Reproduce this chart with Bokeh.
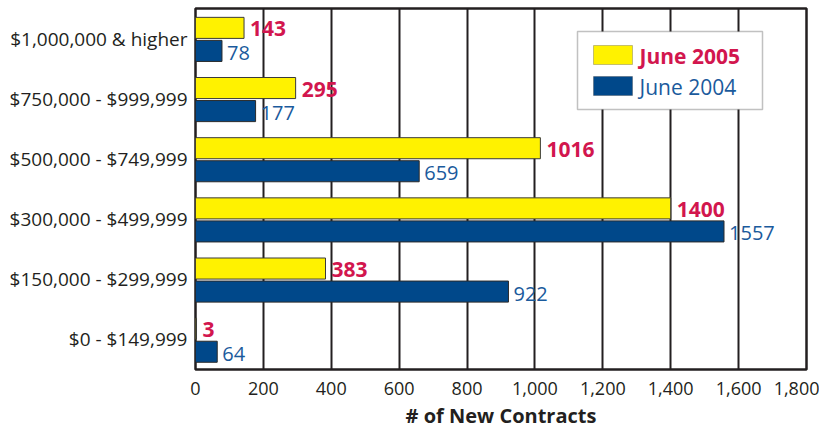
from bokeh.plotting import figure
from bokeh.models import (ColumnDataSource, FactorRange, Range1d, FixedTicker,
                          NumeralTickFormatter, BoxAnnotation, Label, Title)
from bokeh.transform import dodge
from bokeh.core.properties import value
from bokeh.embed import file_html
from bokeh.resources import INLINE

# ---- data ----
categories = ["$0 - $149,999", "$150,000 - $299,999", "$300,000 - $499,999",
              "$500,000 - $749,999", "$750,000 - $999,999", "$1,000,000 & higher"]
june2005 = [3, 383, 1400, 1016, 295, 143]
june2004 = [64, 922, 1557, 659, 177, 78]
x_ticks = [0, 200, 400, 600, 800, 1000, 1200, 1400, 1600, 1800]
series_names = ["June 2005", "June 2004"]
x_title = "# of New Contracts"

FONT = "Open Sans"
DARK = "#231F20"
YELLOW = "#FFF200"
BLUE = "#00488A"
RED = "#D2164E"
BLUE_TXT = "#1A5A9C"

src = ColumnDataSource(dict(
    cat=categories,
    v05=june2005,
    v04=june2004,
    l05=[str(v) for v in june2005],
    l04=[str(v) for v in june2004],
))

p = figure(width=819, height=431, y_range=FactorRange(factors=categories),
           x_range=Range1d(0, 1800), output_backend="svg", toolbar_location=None,
           min_border_left=195, min_border_right=13, min_border_top=8,
           min_border_bottom=60)
p.background_fill_color = "white"
p.border_fill_color = "white"
p.outline_line_color = DARK
p.outline_line_width = 2.5

y05 = dodge("cat", 0.178, range=p.y_range)
y04 = dodge("cat", -0.205, range=p.y_range)

p.hbar(y=y05, left=0, right="v05", height=0.35, source=src,
       fill_color=YELLOW, line_color="#3A3A3A", line_width=1)
p.hbar(y=y04, left=0, right="v04", height=0.35, source=src,
       fill_color=BLUE, line_color="#2A2A2A", line_width=1)

p.text(x="v05", y=y05, text="l05", source=src, x_offset=6, y_offset=1,
       text_baseline="middle", text_align="left",
       text_font=value(FONT), text_font_style="bold", text_font_size="21px",
       text_color=RED)
p.text(x="v04", y=y04, text="l04", source=src, x_offset=5, y_offset=2,
       text_baseline="middle", text_align="left",
       text_font=value(FONT), text_font_size="20px", text_color=BLUE_TXT)

# grid
p.xgrid.grid_line_color = DARK
p.xgrid.grid_line_width = 2
p.ygrid.grid_line_color = None

# axes
xa = p.xaxis[0]
xa.ticker = FixedTicker(ticks=x_ticks)
xa.formatter = NumeralTickFormatter(format="0,0")
xa.major_label_standoff = 12
for ax in (p.xaxis[0], p.yaxis[0]):
    ax.axis_line_color = None
    ax.major_tick_line_color = None
    ax.minor_tick_line_color = None
    ax.major_tick_out = 0
    ax.major_tick_in = 0
    ax.major_label_text_font = FONT
    ax.major_label_text_color = DARK
xa.major_label_text_font_size = "18px"
p.yaxis[0].major_label_text_font_size = "19px"
p.yaxis[0].major_label_standoff = 8

# x-axis title below the tick labels
p.add_layout(Title(text=x_title, align="center", text_font=FONT,
                   text_font_style="bold", text_font_size="20px",
                   text_color=DARK, standoff=5, offset=4), "below")

# legend (drawn manually: two differently styled entries)
p.add_layout(BoxAnnotation(left=382, right=567, top=338, bottom=260,
                           left_units="screen", right_units="screen",
                           top_units="screen", bottom_units="screen",
                           fill_color="white", fill_alpha=1,
                           line_color="#333333", line_width=1.5))
p.add_layout(BoxAnnotation(left=398, right=437, top=324, bottom=305,
                           left_units="screen", right_units="screen",
                           top_units="screen", bottom_units="screen",
                           fill_color=YELLOW, fill_alpha=1,
                           line_color="#3A3A3A", line_width=1))
p.add_layout(BoxAnnotation(left=398, right=437, top=293, bottom=274,
                           left_units="screen", right_units="screen",
                           top_units="screen", bottom_units="screen",
                           fill_color=BLUE, fill_alpha=1,
                           line_color="#2A2A2A", line_width=1))
p.add_layout(Label(x=444, y=314, x_units="screen", y_units="screen",
                   text=series_names[0], text_font=FONT, text_font_style="bold",
                   text_font_size="21px", text_color=RED, text_baseline="middle"))
p.add_layout(Label(x=444, y=283, x_units="screen", y_units="screen",
                   text=series_names[1], text_font=FONT,
                   text_font_size="21px", text_color=BLUE_TXT, text_baseline="middle"))

open("out.html", "w").write(file_html(p, INLINE))
